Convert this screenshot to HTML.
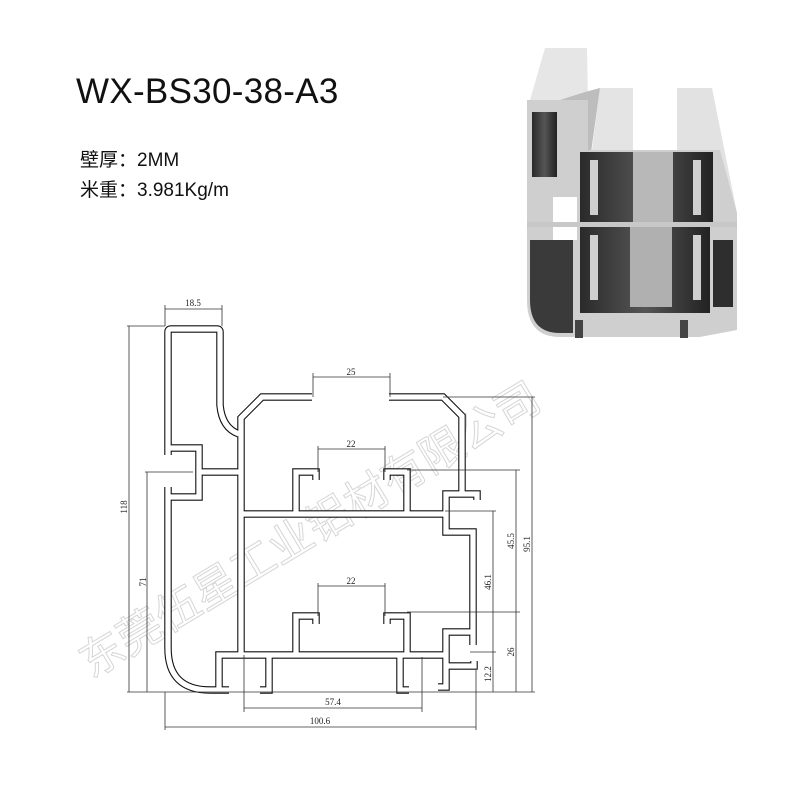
<!DOCTYPE html>
<html><head><meta charset="utf-8"><style>
body{margin:0;background:#fff;}
.wrap{position:relative;width:800px;height:800px;overflow:hidden;background:#fff;}
.t{position:absolute;font-family:"Liberation Sans","Noto Sans CJK SC",sans-serif;color:#111;white-space:nowrap;}
</style></head><body><div class="wrap">
<div class="t" style="left:76px;top:72px;font-size:35px;letter-spacing:0.3px;">WX-BS30-38-A3</div>
<div class="t" style="left:80px;top:145px;font-size:19px;">壁厚：2MM</div>
<div class="t" style="left:80px;top:175px;font-size:19px;">米重：3.981Kg/m</div>
<svg width="800" height="800" style="position:absolute;left:0;top:0" xmlns="http://www.w3.org/2000/svg">
<defs>
<linearGradient id="dk" x1="0" x2="1"><stop offset="0" stop-color="#2a2a2a"/><stop offset="0.5" stop-color="#555"/><stop offset="1" stop-color="#222"/></linearGradient>
</defs>
<g>
<polygon points="530,100 545,48 587,48 588,100" fill="#e6e6e6"/>
<polygon points="592,150 600,88 633,88 633,150" fill="#e4e4e4"/>
<polygon points="677,152 677,88 712,88 737,213 720,213" fill="#e2e2e2"/>
<polygon points="560,100 585,92 600,88 590,160 570,170" fill="#bdbdbd"/>
<path d="M527,100 L588,100 L588,150 L720,150 L737,213 L737,330 L700,337 L560,337 Q527,337 527,300 Z" fill="#cfcfcf"/>
<rect x="532" y="112" width="25" height="65" fill="url(#dk)"/>
<rect x="580" y="152" width="133" height="70" fill="url(#dk)"/>
<rect x="633" y="152" width="40" height="70" fill="#b8b8b8"/>
<rect x="580" y="227" width="130" height="86" fill="url(#dk)"/>
<rect x="630" y="227" width="42" height="80" fill="#b0b0b0"/>
<path d="M530,240 L573,240 L573,333 L560,333 Q530,333 530,300 Z" fill="#3a3a3a"/>
<rect x="713" y="240" width="20" height="67" fill="#2e2e2e"/>
<rect x="553" y="197" width="24" height="43" fill="#fff"/>
<rect x="590" y="160" width="8" height="55" fill="#cfcfcf"/>
<rect x="693" y="160" width="8" height="55" fill="#cfcfcf"/>
<rect x="590" y="235" width="8" height="65" fill="#cfcfcf"/>
<rect x="693" y="235" width="8" height="65" fill="#cfcfcf"/>
<rect x="527" y="222" width="210" height="5" fill="#c8c8c8"/>
<rect x="575" y="320" width="8" height="18" fill="#444"/><rect x="680" y="320" width="8" height="18" fill="#444"/>
</g>
<text x="310" y="545" transform="rotate(-31 310 530)" text-anchor="middle" font-family="Liberation Sans,Noto Sans CJK SC,sans-serif" font-size="44" fill="none" stroke="#d6d6d6" stroke-width="1">东莞伍星工业铝材有限公司</text>
<g fill="none" stroke-linecap="square" stroke-linejoin="miter">
<g id="p">
<path d="M168,455 L168,332 Q168,329 171,329 L217,329 Q220,329 220,332 L220,405 Q222,428 239,434"/>
<path d="M168,448 L199,448 L199,497 L168,497"/>
<path d="M199,472 L241,472"/>
<path d="M312,397 L262,397 L241,418 L241,655"/>
<path d="M389,397 L443,397 L462,416 L462,494"/>
<path d="M477,500 L477,494 L446,494 L446,532 L473,532 L473,645"/>
<path d="M473,632 L446,632 L446,687 L438,687"/>
<path d="M446,666 L474,666 L474,661"/>
<path d="M168,487 L168,648 Q168,690 210,690 L229,690"/>
<path d="M219,690 L219,655 L446,655"/>
<path d="M269,655 L269,690 L260,690"/>
<path d="M400,655 L400,690 L409,690"/>
<path d="M241,514 L446,514"/>
<path d="M296,514 L296,472 L316,472 L316,480"/>
<path d="M407,514 L407,472 L387,472 L387,480"/>
<path d="M296,654 L296,616 L316,616 L316,624"/>
<path d="M407,654 L407,616 L387,616 L387,624"/>
</g>
</g>
<use href="#p" stroke="#111" stroke-width="7.5" fill="none"/>
<use href="#p" stroke="#fff" stroke-width="5.3" fill="none"/>
<g stroke="#333" stroke-width="0.8" fill="none">
<path d="M165,305 V326 M222,305 V326 M165,309 H222"/>
<path d="M127,326 H165 M129,326 V692 M127,692 H535"/>
<path d="M145,472 H193 M147,472 V692"/>
<path d="M313,373 V397 M390,373 V397 M313,377 H390"/>
<path d="M318,446 V472 M385,446 V472 M318,449 H385"/>
<path d="M318,583 V616 M385,583 V616 M318,586 H385"/>
<path d="M244,655 V712 M422,657 V712 M244,708 H422"/>
<path d="M165,692 V730 M476,670 V730 M165,727 H476"/>
<path d="M443,397 H535 M532,397 V692"/>
<path d="M407,470 H520 M407,612 H520 M516,470 V692"/>
<path d="M445,511 H496 M493,511 V692 M470,652 H496"/>
</g>
<g font-family="Liberation Serif,serif" font-size="9" fill="#222" text-anchor="middle">
<text x="193" y="306">18.5</text>
<text x="351" y="375">25</text>
<text x="351" y="447">22</text>
<text x="351" y="584">22</text>
<text x="333" y="705">57.4</text>
<text x="320" y="724">100.6</text>
<text transform="translate(127,507) rotate(-90)">118</text>
<text transform="translate(146,582) rotate(-90)">71</text>
<text transform="translate(530,544) rotate(-90)">95.1</text>
<text transform="translate(514,541) rotate(-90)">45.5</text>
<text transform="translate(491,582) rotate(-90)">46.1</text>
<text transform="translate(514,652) rotate(-90)">26</text>
<text transform="translate(491,674) rotate(-90)">12.2</text>
</g>
</svg>
</div></body></html>
